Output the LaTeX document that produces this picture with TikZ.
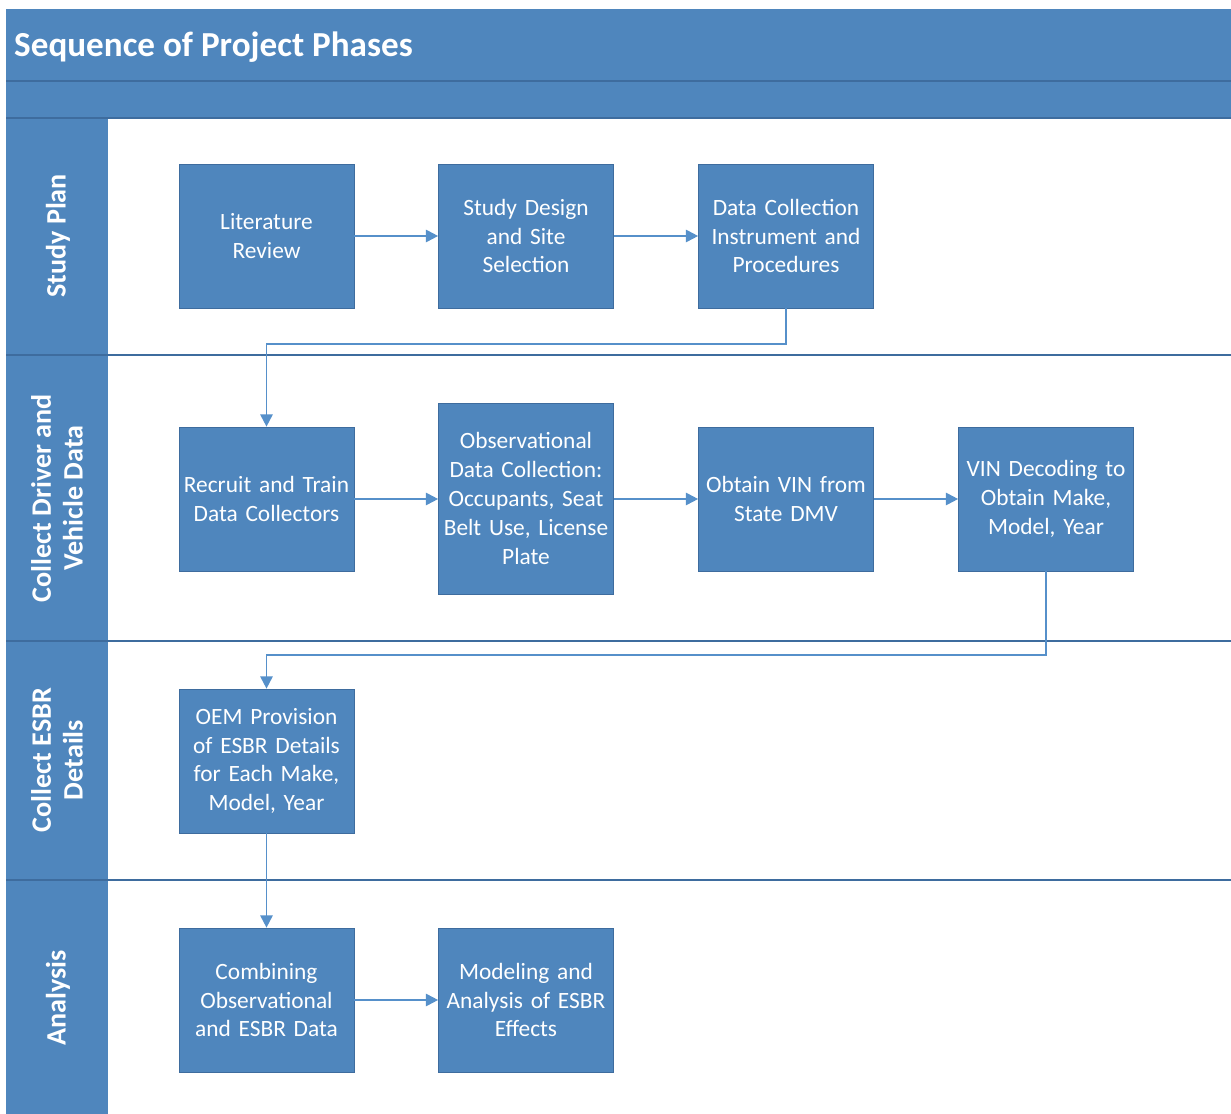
\documentclass[tikz,border=0pt]{standalone}
\usepackage{fontspec}
\setmainfont{Carlito}
\usepackage{tikz}
\usetikzlibrary{positioning,calc}
\usetikzlibrary{arrows.meta}
\definecolor{laneblue}{HTML}{4F86BD}
\definecolor{edgeblue}{HTML}{3E6C9E}
\definecolor{flowblue}{HTML}{5690CA}
\tikzset{
  phase/.style={draw=edgeblue, fill=laneblue, text=white, align=center,
    minimum width=3.5cm, minimum height=2.88cm, text width=3.46cm, inner sep=0pt,
    font=\fontsize{13.3}{16.4}\selectfont},
  lanelabel/.style={text=white, rotate=90, align=center,
    font=\fontsize{16}{18}\selectfont\bfseries},
  flow/.style={draw=flowblue, line width=1.1pt, -{Triangle[length=7pt,width=7pt]}},
  laneline/.style={draw=edgeblue, line width=1.1pt}
}

\begin{document}
\begin{tikzpicture}[x=0.02cm, y=-0.02cm]
				\useasboundingbox (0,0) rectangle (1231,1114);
				\fill[white] (0,0) rectangle (1231,1114);
				% header and lane column
				\fill[laneblue] (6,9) rectangle (1231,118);\fill[laneblue] (6,118) rectangle (108,1114);
				\draw[laneline] (6,81) -- (1231,81);\draw[laneline] (6,118) -- (1231,118);
				\foreach \y in {355,641,880} \draw[laneline] (6,\y) -- (1231,\y);
				\node[anchor=west, text=white, font=\fontsize{20}{24}\selectfont\bfseries] (title) at (8,47) {Sequence of Project Phases};
				\node[lanelabel] (plan) at (58,236) {Study Plan};
				\node[lanelabel] (collect) at (57,498) {Collect Driver and\\Vehicle Data};
				\node[lanelabel] (esbr) at (57,760) {Collect ESBR\\Details};
				\node[lanelabel] (analysis) at (58,998) {Analysis};
				% phases
				\node[phase] (lit) at (266.5,236) {Literature\\Review};
				\node[phase] (design) at (526,236) {Study Design\\and Site\\Selection};
				\node[phase] (instr) at (786,236) {Data Collection\\Instrument and\\Procedures};
				\node[phase] (recruit) at (266.5,499) {Recruit and Train\\Data Collectors};
				\node[phase, minimum height=3.82cm] (obs) at (526,498.5) {Observational\\Data Collection:\\Occupants, Seat\\Belt Use, License\\Plate};
				\node[phase] (dmv) at (786,499) {Obtain VIN from\\State DMV};
				\node[phase] (vin) at (1046,499) {VIN Decoding to\\Obtain Make,\\Model, Year};
				\node[phase] (oem) at (266.5,761) {OEM Provision\\of ESBR Details\\for Each Make,\\Model, Year};
				\node[phase] (comb) at (266.5,1000) {Combining\\Observational\\and ESBR Data};
				\node[phase] (model) at (526,1000) {Modeling and\\Analysis of ESBR\\Effects};
				% flow
				\draw[flow] (lit) -- (design);\draw[flow] (design) -- (instr);
				\draw[flow] (instr.south) -- ++(0,36) -| (recruit.north);
				\draw[flow] (recruit) -- (recruit -| obs.west);\draw[flow] (obs.east |- dmv) -- (dmv);\draw[flow] (dmv) -- (vin);
				\draw[flow] (vin.south) -- ++(0,84) -| (oem.north);
				\draw[flow] (oem) -- (comb);\draw[flow] (comb) -- (model);
			\end{tikzpicture}
\end{document}
